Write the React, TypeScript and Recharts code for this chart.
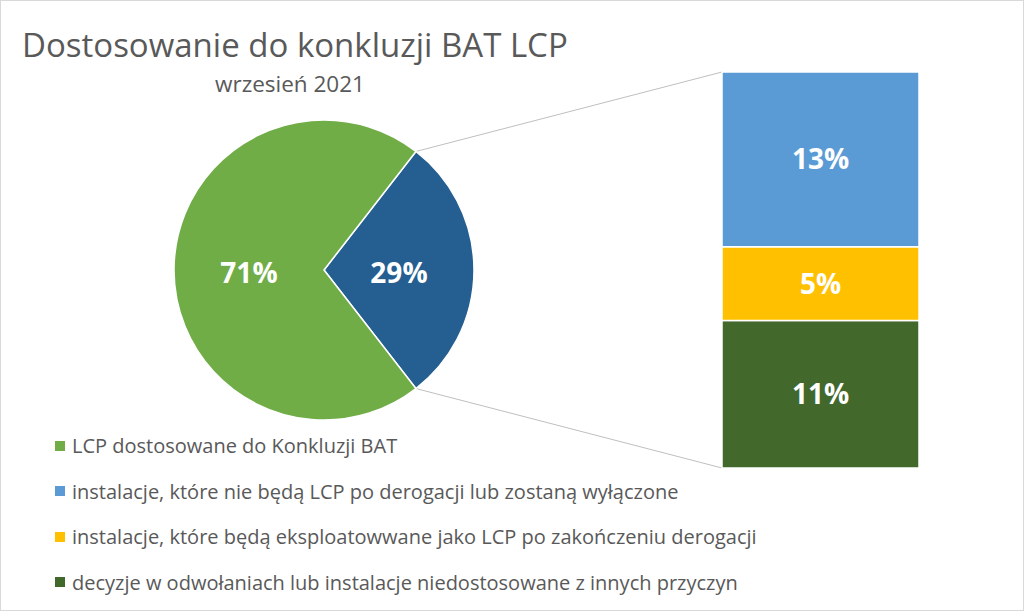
import { PieChart, Pie, Cell, BarChart, Bar, XAxis, YAxis, LabelList } from 'recharts';

// dane z wykresu (wrzesień 2021)
const mainLabel = 'LCP dostosowane do Konkluzji BAT';
const mainValue = 71;
const splitLabels = [
  'instalacje, które nie będą LCP po derogacji lub zostaną wyłączone',
  'instalacje, które będą eksploatowwane jako LCP po zakończeniu derogacji',
  'decyzje w odwołaniach lub instalacje niedostosowane z innych przyczyn',
];
const splitValues = [12.8, 5.4, 10.8];
const splitKeys = ['s0', 's1', 's2'];

const MAIN_COLOR = '#70AD47';
const OTHER_COLOR = '#255E91';
const splitColors = ['#5B9BD5', '#FFC000', '#43682B'];

const W = 1024;
const H = 611;
const FONT = '"Open Sans", sans-serif';
const TEXT = '#595959';

// geometria
const PIE_CX = 324;
const PIE_CY = 270;
const PIE_R = 150;
const BAR_LEFT = 722;
const BAR_RIGHT = 919;
const BAR_TOP = 72;
const BAR_BOTTOM = 468;

const otherValue = splitValues.reduce((s, v) => s + v, 0);
const pieData = [
  { name: 'inne', value: otherValue, color: OTHER_COLOR },
  { name: mainLabel, value: mainValue, color: MAIN_COLOR },
];
const pieTotal = otherValue + mainValue;
const halfAngle = (otherValue / pieTotal) * 180;

const barRow: Record<string, number | string> = { name: 'inne' };
splitKeys.forEach((k, i) => {
  barRow[k] = splitValues[i];
});
const barData = [barRow];

const legendItems = [
  { label: mainLabel, color: MAIN_COLOR },
  ...splitLabels.map((l, i) => ({ label: l, color: splitColors[i] })),
];

const RAD = Math.PI / 180;

const PieLabel = (props: any) => {
  const { cx, cy, midAngle, outerRadius, value } = props;
  const r = outerRadius * 0.5;
  const x = cx + r * Math.cos(-midAngle * RAD);
  const y = cy + r * Math.sin(-midAngle * RAD);
  return (
    <text
      x={x}
      y={y + 2}
      fill="#fff"
      textAnchor="middle"
      dominantBaseline="central"
      fontFamily={FONT}
      fontWeight={700}
      fontSize={28}
    >
      {Math.round((value / pieTotal) * 100)}%
    </text>
  );
};

export default function App() {
  const a = halfAngle * RAD;
  const topPt = { x: PIE_CX + PIE_R * Math.cos(a), y: PIE_CY - PIE_R * Math.sin(a) };
  const botPt = { x: PIE_CX + PIE_R * Math.cos(a), y: PIE_CY + PIE_R * Math.sin(a) };

  return (
    <div
      style={{
        position: 'absolute',
        left: 0,
        top: 0,
        width: W,
        height: H,
        boxSizing: 'border-box',
        border: '1px solid #d9d9d9',
        background: '#fff',
        fontFamily: FONT,
      }}
    >
      <svg width={W} height={H} style={{ position: 'absolute', left: -1, top: -1 }}>
        <text x={22} y={57} fill={TEXT} fontFamily={FONT} fontSize={33}>
          Dostosowanie do konkluzji BAT LCP
        </text>
        <text x={290} y={92} fill={TEXT} fontFamily={FONT} fontSize={22.5} textAnchor="middle">
          wrzesień 2021
        </text>
        <line x1={topPt.x} y1={topPt.y} x2={BAR_LEFT} y2={BAR_TOP} stroke="#bfbfbf" strokeWidth={1} />
        <line x1={botPt.x} y1={botPt.y} x2={BAR_LEFT} y2={BAR_BOTTOM} stroke="#bfbfbf" strokeWidth={1} />
      </svg>

      <div style={{ position: 'absolute', left: -1, top: -1 }}>
        <PieChart width={W} height={H} margin={{ top: 0, right: 0, bottom: 0, left: 0 }}>
          <Pie
            data={pieData}
            dataKey="value"
            nameKey="name"
            cx={PIE_CX}
            cy={PIE_CY}
            outerRadius={PIE_R}
            startAngle={halfAngle}
            endAngle={halfAngle - 360}
            stroke="#fff"
            strokeWidth={1.5}
            label={PieLabel}
            labelLine={false}
            isAnimationActive={false}
          >
            {pieData.map((d) => (
              <Cell key={d.name} fill={d.color} />
            ))}
          </Pie>
        </PieChart>
      </div>

      <div style={{ position: 'absolute', left: -1, top: -1 }}>
        <BarChart
          width={W}
          height={H}
          data={barData}
          barCategoryGap={0}
          margin={{ top: BAR_TOP, right: W - BAR_RIGHT, bottom: H - BAR_BOTTOM, left: BAR_LEFT }}
        >
          <XAxis dataKey="name" hide />
          <YAxis hide domain={[0, otherValue]} />
          {[...splitKeys].reverse().map((k) => {
            const i = splitKeys.indexOf(k);
            return (
              <Bar
                key={k}
                dataKey={k}
                stackId="a"
                fill={splitColors[i]}
                stroke="#fff"
                strokeWidth={1.5}
                isAnimationActive={false}
              >
                <LabelList
                  dataKey={k}
                  position="center"
                  fill="#fff"
                  fontFamily={FONT}
                  fontWeight={700}
                  fontSize={28}
                  formatter={(v: any) => `${Math.round(Number(v))}%`}
                />
              </Bar>
            );
          })}
        </BarChart>
      </div>

      <div style={{ position: 'absolute', left: 54, top: 422 }}>
        {legendItems.map((it) => (
          <div
            key={it.label}
            style={{ display: 'flex', alignItems: 'center', height: 45.5, color: TEXT, fontSize: 20 }}
          >
            <span
              style={{ width: 10, height: 10, background: it.color, marginRight: 7, flexShrink: 0 }}
            />
            <span style={{ whiteSpace: 'nowrap' }}>{it.label}</span>
          </div>
        ))}
      </div>
    </div>
  );
}
